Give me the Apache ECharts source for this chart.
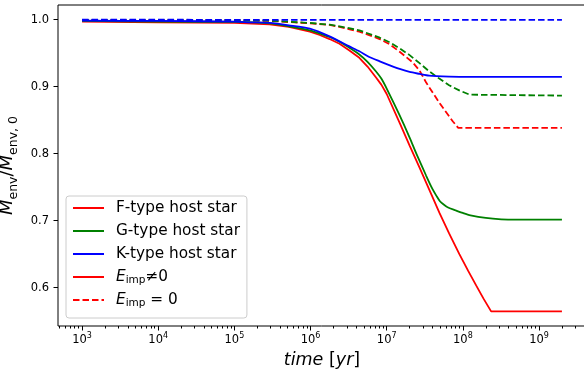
<!DOCTYPE html>
<html>
<head>
<meta charset="UTF-8">
<script src="https://cdn.jsdelivr.net/npm/echarts@6/dist/echarts.min.js"></script>
<style>
  body { margin: 0; background: #fff; }
  #chart { width: 584px; height: 370px; }
</style>
</head>
<body>
<div id="chart"></div>
<script>
// tick positions (x axis is log10 of time in years)
const xTickExps = [3, 4, 5, 6, 7, 8, 9];
const yTicks = [0.6, 0.7, 0.8, 0.9, 1.0];

// F-type host star
const fTimeSolid = [1e3, 1e4, 1e5, 2.9e5, 5.2e5, 9.8e5, 1.32e6, 1.78e6, 2.4e6, 3.24e6, 4.37e6, 5.6e6, 7.2e6, 8.5e6, 1e7, 1.48e7, 2e7, 2.7e7, 4e7, 4.93e7, 6.6e7, 9e7, 1.175e8, 1.5e8, 1.86e8, 2.35e8, 2e9];
const fSolid = [0.997, 0.996, 0.995, 0.993, 0.989, 0.982, 0.977, 0.971, 0.964, 0.954, 0.943, 0.930, 0.914, 0.903, 0.889, 0.846, 0.812, 0.779, 0.735, 0.7115, 0.681, 0.650, 0.625, 0.603, 0.584, 0.5646, 0.5646];
const fTimeDashed = [1e3, 1e5, 2.9e5, 9.8e5, 1.78e6, 2.4e6, 4.37e6, 8.1e6, 1.1e7, 1.48e7, 2.2e7, 2.7e7, 3.3e7, 4.9e7, 7.4e7, 8.7e7, 2e9];
const fDashed = [0.9995, 0.999, 0.998, 0.9945, 0.992, 0.989, 0.982, 0.971, 0.963, 0.952, 0.936, 0.924, 0.906, 0.876, 0.848, 0.8384, 0.8384];

// G-type host star
const gTimeSolid = [1e3, 1e4, 1e5, 2.9e5, 5.2e5, 9.8e5, 1.32e6, 1.78e6, 2.4e6, 3.24e6, 4.37e6, 5.6e6, 7.2e6, 8.5e6, 1e7, 1.48e7, 2e7, 2.45e7, 3.3e7, 4e7, 4.5e7, 5e7, 5.6e7, 6.3e7, 8e7, 1e8, 1.26e8, 2e8, 3.2e8, 5e8, 2e9];
const gSolid = [0.998, 0.997, 0.9965, 0.9945, 0.990, 0.984, 0.979, 0.974, 0.967, 0.958, 0.948, 0.937, 0.923, 0.912, 0.897, 0.857, 0.824, 0.800, 0.767, 0.747, 0.737, 0.729, 0.724, 0.720, 0.7155, 0.7115, 0.708, 0.704, 0.702, 0.7015, 0.7015];
const gTimeDashed = [1e3, 1e5, 2.9e5, 9.8e5, 1.78e6, 2.4e6, 4.37e6, 8.1e6, 1.1e7, 1.48e7, 2e7, 2.7e7, 3.6e7, 4.9e7, 6.6e7, 9.1e7, 1.23e8, 1.29e8, 2e9];
const gDashed = [0.9995, 0.999, 0.9985, 0.995, 0.9925, 0.990, 0.984, 0.973, 0.966, 0.957, 0.947, 0.935, 0.923, 0.912, 0.902, 0.894, 0.888, 0.8866, 0.8866];

// K-type host star
const kTimeSolid = [1e3, 1e4, 1e5, 1.6e5, 2.9e5, 5.2e5, 9.8e5, 1.78e6, 3.24e6, 4.37e6, 5.9e6, 8.1e6, 1.1e7, 1.48e7, 2e7, 2.7e7, 3.6e7, 6.6e7, 1.23e8, 2e9];
const kSolid = [0.9985, 0.998, 0.997, 0.996, 0.995, 0.9915, 0.9866, 0.975, 0.960, 0.9527, 0.9443, 0.9378, 0.9318, 0.9264, 0.9219, 0.919, 0.9164, 0.915, 0.9145, 0.9145];
const kTimeDashed = [1e3, 1e6, 2e9];
const kDashed = [0.9998, 0.9997, 0.9995];

// minor ticks at 2..9 x 10^n
const minorTicks = [];
[2, 3, 4, 5, 6, 7, 8, 9].forEach(d => {
  for (let m = 2; m <= 9; m++) minorTicks.push(Math.log10(m * Math.pow(10, d)));
});

const FONT = 'DejaVu Sans';
const RED = '#ff0000', GREEN = '#008000', BLUE = '#0000ff';

function pts(times, vals) {
  return times.map((t, i) => [Math.log10(t), vals[i]]);
}

function line(name, times, vals, color, dashed, smooth) {
  return {
    name: name,
    type: 'line',
    symbol: 'none',
    smooth: smooth || false,
    data: times ? pts(times, vals) : [],
    lineStyle: { color: color, width: 1.8, type: dashed ? [6.5, 3] : 'solid' },
    itemStyle: { color: color },
    emphasis: { disabled: true }
  };
}

const legendText = {
  'F-type host star': 'F-type host star',
  'G-type host star': 'G-type host star',
  'K-type host star': 'K-type host star',
  'Eimp!=0': '{e|E}{sub|imp}{t|≠0}',
  'Eimp=0': '{e|E}{sub|imp}{t| = 0}'
};

const chart = echarts.init(document.getElementById('chart'));

chart.setOption({
  animation: false,
  textStyle: { fontFamily: FONT },
  grid: {
    left: 58, top: 5, width: 528, height: 321,
    outerBoundsMode: 'none',
    containLabel: false,
    show: true, borderColor: '#000', borderWidth: 1
  },
  legend: {
    orient: 'vertical',
    left: 66, top: 196,
    data: ['F-type host star', 'G-type host star', 'K-type host star', 'Eimp!=0', 'Eimp=0'],
    itemWidth: 31, itemHeight: 14, itemGap: 5,
    padding: [3, 7, 9, 6],
    backgroundColor: 'rgba(255,255,255,0.8)',
    borderColor: '#cccccc', borderWidth: 1, borderRadius: 3,
    selectedMode: false,
    itemStyle: { opacity: 0 },
    formatter: name => legendText[name],
    textStyle: {
      fontFamily: FONT, fontSize: 15.3, color: '#000', lineHeight: 18,
      padding: [0, 0, 0, 7],
      rich: {
        e: { fontFamily: FONT, fontSize: 15.3, fontStyle: 'italic', lineHeight: 18 },
        sub: { fontFamily: FONT, fontSize: 10.5, lineHeight: 10, verticalAlign: 'bottom' },
        t: { fontFamily: FONT, fontSize: 15.3, lineHeight: 18 }
      }
    }
  },
  xAxis: [{
    type: 'value',
    min: 2.684, max: 9.617,
    axisLine: { show: false },
    splitLine: { show: false },
    axisTick: { customValues: xTickExps, length: 4.5, lineStyle: { color: '#000', width: 1 } },
    axisLabel: {
      customValues: xTickExps, margin: 6, color: '#000',
      formatter: v => '{b|10}{s|' + Math.round(v) + '}',
      rich: {
        b: { fontFamily: FONT, fontSize: 11.5, lineHeight: 16, color: '#000' },
        s: { fontFamily: FONT, fontSize: 8, lineHeight: 8, verticalAlign: 'top', color: '#000' }
      }
    },
    name: '{i|time} [{i|yr}]',
    nameLocation: 'middle',
    nameGap: 25,
    nameTextStyle: {
      fontFamily: FONT, fontSize: 17.5, color: '#000',
      rich: { i: { fontFamily: FONT, fontSize: 17.5, fontStyle: 'italic', color: '#000' } }
    }
  }, {
    type: 'value',
    position: 'bottom',
    min: 2.684, max: 9.617,
    axisLine: { show: false },
    splitLine: { show: false },
    axisLabel: { show: false },
    axisTick: { customValues: minorTicks, length: 2.5, lineStyle: { color: '#000', width: 1 } }
  }],
  yAxis: {
    type: 'value',
    min: 0.5428, max: 1.0218,
    axisLine: { show: false },
    splitLine: { show: false },
    axisTick: { customValues: yTicks, length: 4.5, lineStyle: { color: '#000', width: 1 } },
    axisLabel: {
      customValues: yTicks, margin: 9, color: '#000',
      fontFamily: FONT, fontSize: 11.5,
      formatter: v => v.toFixed(1)
    },
    name: '{i|M}{s|env}{n|/}{i|M}{s|env, 0}',
    nameLocation: 'middle',
    nameRotate: 90,
    nameGap: 33,
    nameTextStyle: {
      fontFamily: FONT, color: '#000',
      rich: {
        i: { fontFamily: FONT, fontSize: 18, fontStyle: 'italic', lineHeight: 24, color: '#000' },
        n: { fontFamily: FONT, fontSize: 18, lineHeight: 24, color: '#000' },
        s: { fontFamily: FONT, fontSize: 12.5, lineHeight: 12, verticalAlign: 'bottom', color: '#000' }
      }
    }
  },
  series: [
    line('F-type host star', fTimeSolid, fSolid, RED, false),
    line('Eimp=0', fTimeDashed, fDashed, RED, true),
    line('G-type host star', gTimeSolid, gSolid, GREEN, false, 0.25),
    line('G dashed', gTimeDashed, gDashed, GREEN, true),
    line('K-type host star', kTimeSolid, kSolid, BLUE, false, 0.25),
    line('K dashed', kTimeDashed, kDashed, BLUE, true),
    line('Eimp!=0', null, null, RED, false)
  ]
});
</script>
</body>
</html>
